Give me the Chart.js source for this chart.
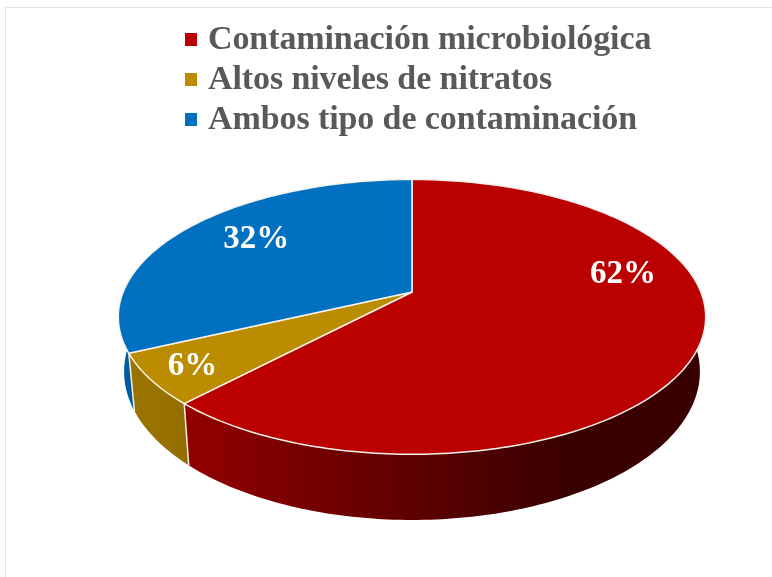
<!DOCTYPE html>
<html>
<head>
<meta charset="utf-8">
<script src="https://cdn.jsdelivr.net/npm/chart.js@4"></script>
<style>
html, body { margin: 0; padding: 0; background: #fff; }
#wrap { position: relative; width: 772px; height: 577px; overflow: hidden; filter: blur(0.45px); }
#frame { position: absolute; left: 5px; top: 7px; right: -2px; bottom: -2px; border: 1px solid #e4e4e4; }
#pie { position: absolute; left: 0; top: 0; }
#legend { position: absolute; left: 185px; top: 18px; font: bold 34px "Liberation Serif", serif; color: #595959; }
#legend div { position: relative; height: 40px; line-height: 40px; padding-left: 23px; white-space: nowrap; letter-spacing: -0.1px; }
#legend i { position: absolute; left: 0; top: 15px; width: 12px; height: 13px; }
</style>
</head>
<body>
<div id="wrap">
  <div id="frame"></div>
  <canvas id="pie" width="772" height="577"></canvas>
  <div id="legend"></div>
</div>
<script>
const categories = ['Contaminación microbiológica', 'Altos niveles de nitratos', 'Ambos tipo de contaminación'];
const values = [62, 6, 32];
const colors = ['#bb0000', '#bb8c00', '#0070c0'];
// where each % label sits on the disc, in disc units
const labelSpots = [[0.748, -0.132], [-0.69, 0.51], [-0.58, -0.422]];

// perspective of the pie, as ratios of the chart's radius
const persp = -0.181;
const topFace = { a: 1.017, b: 0.468, drop: 0 };
const bottomFace = { a: 0.997, b: 0.505, drop: 0.186 };

function project(el, face, u, v) {
    const r = el.outerRadius, d = 1 + persp * v;
    return {
        x: el.x + r * face.a * u / d,
        y: el.y + r * face.drop + r * face.b * v / d
    };
}

function rimPoint(el, face, angle) {
    return project(el, face, Math.cos(angle), Math.sin(angle));
}

function shade(hex, x) {
    // side wall gets darker going to the right
    const f = Math.max(0.31, Math.min(0.82, 0.78 - (x - 190) * 0.00125));
    const n = parseInt(hex.slice(1), 16);
    return 'rgb(' + Math.round((n >> 16) * f) + ',' + Math.round(((n >> 8) & 255) * f) + ',' + Math.round((n & 255) * f) + ')';
}

const pie3d = {
    id: 'pie3d',
    beforeDatasetsDraw(chart) {
        const ctx = chart.ctx;
        const arcs = chart.getDatasetMeta(0).data;
        const step = Math.PI / 180;
        const w = chart.width;

        // side wall, one path of small quads so the rims can cross without a notch
        arcs.forEach(function(el, i) {
            const grad = ctx.createLinearGradient(0, 0, w, 0);
            for (let s = 0; s <= 40; s++) {
                grad.addColorStop(s / 40, shade(colors[i], w * s / 40));
            }
            ctx.beginPath();
            for (let a = el.startAngle; a < el.endAngle; a += step) {
                const b = Math.min(a + step, el.endAngle);
                if (Math.sin(b) < -0.02) continue;
                const p1 = rimPoint(el, topFace, a), p2 = rimPoint(el, topFace, b);
                const p3 = rimPoint(el, bottomFace, b), p4 = rimPoint(el, bottomFace, a);
                ctx.moveTo(p1.x, p1.y);
                ctx.lineTo(p2.x, p2.y);
                ctx.lineTo(p3.x, p3.y);
                ctx.lineTo(p4.x, p4.y);
                ctx.closePath();
            }
            ctx.fillStyle = grad;
            ctx.fill();
        });

        // white seams on the wall
        arcs.forEach(function(el) {
            if (Math.sin(el.endAngle) < 0) return;
            const t = rimPoint(el, topFace, el.endAngle), o = rimPoint(el, bottomFace, el.endAngle);
            ctx.strokeStyle = '#f4efe6';
            ctx.lineWidth = 1.5;
            ctx.beginPath();
            ctx.moveTo(t.x, t.y);
            ctx.lineTo(o.x, o.y);
            ctx.stroke();
        });

        // top of the pie
        arcs.forEach(function(el, i) {
            const c = project(el, topFace, 0, 0);
            ctx.beginPath();
            ctx.moveTo(c.x, c.y);
            for (let a = el.startAngle; a < el.endAngle; a += step) {
                const p = rimPoint(el, topFace, a);
                ctx.lineTo(p.x, p.y);
            }
            const e = rimPoint(el, topFace, el.endAngle);
            ctx.lineTo(e.x, e.y);
            ctx.closePath();
            ctx.fillStyle = colors[i];
            ctx.fill();
            ctx.strokeStyle = '#f6f1ea';
            ctx.lineWidth = 1.5;
            ctx.lineJoin = 'round';
            ctx.stroke();
        });

        ctx.fillStyle = '#fff';
        ctx.font = 'bold 33px "Liberation Serif", serif';
        ctx.textAlign = 'center';
        ctx.textBaseline = 'middle';
        arcs.forEach(function(el, i) {
            const p = project(el, topFace, labelSpots[i][0], labelSpots[i][1]);
            ctx.fillText(values[i] + '%', p.x, p.y);
        });
        return false;
    }
};

new Chart(document.getElementById('pie').getContext('2d'), {
    type: 'pie',
    data: {
        labels: categories,
        datasets: [{ data: values, backgroundColor: colors }]
    },
    options: {
        responsive: false,
        animation: false,
        layout: { padding: { left: 52, top: 7 } },
        plugins: { legend: { display: false }, tooltip: { enabled: false } }
    },
    plugins: [pie3d]
});

const legendBox = document.getElementById('legend');
categories.forEach(function(name, i) {
    const row = document.createElement('div');
    const mark = document.createElement('i');
    mark.style.background = colors[i];
    row.appendChild(mark);
    row.appendChild(document.createTextNode(name));
    legendBox.appendChild(row);
});
</script>
</body>
</html>
